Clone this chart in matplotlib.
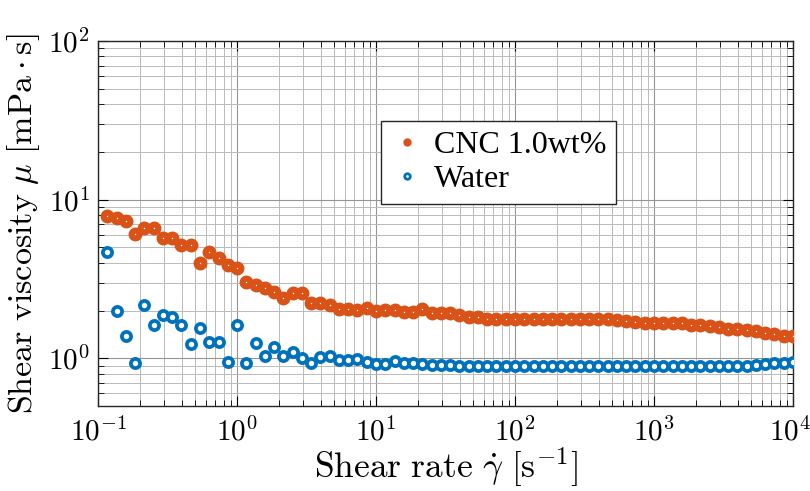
import matplotlib
matplotlib.use('Agg')
import matplotlib.pyplot as plt
import matplotlib.transforms as mtransforms
from matplotlib.lines import Line2D

plt.rcParams['mathtext.fontset'] = 'cm'
plt.rcParams['font.family'] = ['Liberation Serif', 'DejaVu Serif']

# shear rate [1/s], 15 points per decade
shear_rate = [
    0.117, 0.136, 0.158, 0.185, 0.215, 0.251, 0.293, 0.341, 0.398, 0.464, 0.541, 0.631, 0.736, 0.858, 1.0,
    1.17, 1.36, 1.58, 1.85, 2.15, 2.51, 2.93, 3.41, 3.98, 4.64, 5.41, 6.31, 7.36, 8.58, 10.0,
    11.7, 13.6, 15.8, 18.5, 21.5, 25.1, 29.3, 34.1, 39.8, 46.4, 54.1, 63.1, 73.6, 85.8, 100.0,
    117, 136, 158, 185, 215, 251, 293, 341, 398, 464, 541, 631, 736, 858, 1000,
    1170, 1360, 1580, 1850, 2150, 2510, 2930, 3410, 3980, 4640, 5410, 6310, 7360, 8580, 10000,
]

# viscosity [mPa s]
cnc = [
    7.90, 7.66, 7.29, 6.10, 6.62, 6.62, 5.72, 5.72, 5.19, 5.19, 4.01, 4.71, 4.27, 3.88, 3.70,
    3.04, 2.90, 2.77, 2.62, 2.39, 2.57, 2.57, 2.22, 2.22, 2.16, 2.04, 2.04, 2.03, 2.08, 1.99,
    2.01, 2.03, 1.96, 1.96, 2.06, 1.94, 1.92, 1.92, 1.87, 1.83, 1.81, 1.78, 1.78, 1.78, 1.78,
    1.78, 1.78, 1.78, 1.78, 1.77, 1.77, 1.76, 1.76, 1.76, 1.76, 1.75, 1.72, 1.70, 1.68, 1.67,
    1.68, 1.67, 1.66, 1.63, 1.61, 1.59, 1.57, 1.54, 1.52, 1.50, 1.48, 1.45, 1.42, 1.39, 1.38,
]
water = [
    4.71, 1.99, 1.38, 0.94, 2.16, 1.62, 1.87, 1.81, 1.62, 1.23, 1.56, 1.26, 1.26, 0.95, 1.62,
    0.93, 1.24, 1.04, 1.17, 1.03, 1.09, 1.00, 0.93, 1.02, 1.03, 0.98, 0.97, 0.985, 0.95, 0.92,
    0.92, 0.96, 0.94, 0.94, 0.92, 0.91, 0.91, 0.91, 0.90, 0.90, 0.90, 0.90, 0.90, 0.90, 0.90,
    0.90, 0.90, 0.90, 0.90, 0.90, 0.90, 0.90, 0.90, 0.90, 0.90, 0.90, 0.90, 0.90, 0.90, 0.90,
    0.90, 0.90, 0.90, 0.90, 0.90, 0.90, 0.90, 0.90, 0.90, 0.90, 0.91, 0.92, 0.93, 0.94, 0.95,
]

orange = '#D95319'
blue = '#0072BD'

fig = plt.figure(figsize=(8.1, 4.91), dpi=100)
ax = fig.add_axes([0.121, 0.173, 0.858, 0.7435])

ax.plot(shear_rate, cnc, 'o', color=orange, mfc='white', mec=orange, ms=5.6, mew=4.4, zorder=3)
ax.plot(shear_rate, water, 'o', color=blue, mfc='white', mec=blue, ms=6.6, mew=2.7, zorder=3)

ax.set_xscale('log')
ax.set_yscale('log')
ax.set_xlim(0.1, 1e4)
ax.set_ylim(0.5, 100)

ax.set_xticks([0.1, 1, 10, 100, 1000, 10000])
ax.set_xticklabels([r'$10^{-1}$', r'$10^{0}$', r'$10^{1}$', r'$10^{2}$', r'$10^{3}$', r'$10^{4}$'])
ax.set_yticks([1, 10, 100])
ax.set_yticklabels([r'$10^{0}$', r'$10^{1}$', r'$10^{2}$'])

ax.grid(True, which='major', color='#959595', lw=0.8)
ax.grid(True, which='minor', color='#bababa', lw=0.7)
ax.set_axisbelow(True)
ax.tick_params(which='both', direction='in', top=True, right=True, labelsize=21)
ax.tick_params(axis='x', pad=8)
ax.tick_params(axis='y', pad=6)
ax.tick_params(which='major', length=7, width=0.8)
ax.tick_params(which='minor', length=4, width=0.6)
for s in ax.spines.values():
    s.set_linewidth(1.0)
    s.set_color('#262626')

# keep the last x label inside the figure
last = ax.get_xticklabels()[-1]
last.set_transform(last.get_transform() + mtransforms.ScaledTranslation(-3 / 100, 0, fig.dpi_scale_trans))

ax.set_xlabel(r'$\mathrm{Shear\ rate}\ \dot{\gamma}\ [\mathrm{s}^{-1}]$', fontsize=25.5, labelpad=-1)
ax.set_ylabel(r'$\mathrm{Shear\ viscosity}\ \mu\ [\mathrm{mPa}\cdot\mathrm{s}]$', fontsize=24.5, labelpad=4)

handles = [
    Line2D([], [], ls='none', marker='o', mfc='white', mec=orange, ms=3, mew=3),
    Line2D([], [], ls='none', marker='o', mfc='white', mec=blue, ms=4, mew=2),
]
leg = ax.legend(handles, ['CNC 1.0wt%', 'Water'], loc='upper left', bbox_to_anchor=(0.407, 0.781),
                fontsize=23, fancybox=False, framealpha=1, edgecolor='#262626',
                borderpad=0.3, handletextpad=0.3, handlelength=1.05, labelspacing=0.15,
                borderaxespad=0)
leg.get_frame().set_linewidth(1.0)

fig.savefig('out.png', dpi=100)
